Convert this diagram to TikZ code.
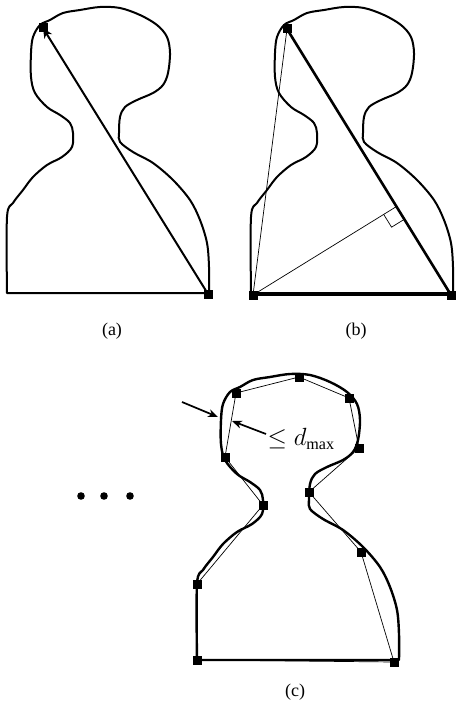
\documentclass[tikz,border=0pt]{standalone}
\usepackage{fontspec}
\setmainfont{Liberation Serif}
\usetikzlibrary{
    arrows.meta,
    positioning,
    calc
}

% outline of the shape, in pixel coordinates of panel (a)
\newcommand{\pawnoutline}{
    (7,293) -- plot[smooth, tension=0.55] coordinates {
    (7,293) (7,217) (13,203) (23,190) (33,177) (47,165) (62,157) (72,147)
    (73,133) (70,123) (60,115) (47,107) (35,93) (31,77) (31,53) (33,37)
    (40,25) (50,20) (63,13) (80,10) (100,7) (120,8) (140,15) (157,25)
    (167,37) (170,53) (168,73) (163,85) (153,93) (137,100) (125,107)
    (120,117) (119,133) (120,142) (133,152) (153,163) (173,180) (190,200)
    (200,220) (207,243) (209,267) (209,293)} -- cycle
}

\begin{document}
\begin{tikzpicture}[
    x=1pt, y=-1pt,
    >=Stealth,
    outline/.style={line width=2pt, line join=round},
    vertex/.style={rectangle, fill=black, minimum size=9pt, inner sep=0pt},
    chord/.style={line width=2.6pt},
    thinchord/.style={line width=0.7pt},
    pointer/.style={-{Stealth[length=10pt, width=8pt]}, line width=1.7pt},
    caption/.style={font=\fontsize{18}{21}\selectfont}
]
\useasboundingbox (0,0) rectangle (456,711);

% (a) first split
\draw[outline] \pawnoutline;
\node[vertex] (a1) at (43,28) {};
\node[vertex] (a2) at (208,294) {};
\draw[chord, line width=2pt, -{Stealth[length=10pt, width=9pt]}] (a2.center) -- (a1.center);
\node[caption] (capa) at (112,331) {(a)};

% (b) farthest point from the chord
\begin{scope}[shift={(244,0)}]
\draw[outline] \pawnoutline;
\node[vertex] (b1) at (43,29) {};
\node[vertex] (b2) at (207,295) {};
\node[vertex] (b3) at (9,295) {};
\end{scope}
\draw[chord] (b1.center) -- (b2.center);
\draw[chord, line width=2.2pt] (b3.center) -- (b2.center);
\draw[thinchord] (b3.center) -- (b1.center);
\coordinate (foot) at ($(b1.center)!(b3.center)!(b2.center)$);
\draw[thinchord] (b3.center) -- (foot);
\coordinate (rA) at ($(foot)!15pt!(b2.center)$);
\coordinate (rB) at ($(foot)!15pt!(b3.center)$);
\draw[thinchord] (rA) -- ($(rA)+(rB)-(foot)$) -- (rB);
\node[caption] (capb) at (356,331) {(b)};

% (c) final polygon
\begin{scope}[shift={(190,367)}]
\draw[outline, line width=2.4pt] \pawnoutline;
\end{scope}
\node[vertex] (c1) at (197,660) {};
\node[vertex] (c2) at (197,584) {};
\node[vertex] (c3) at (263,505) {};
\node[vertex] (c4) at (225,457) {};
\node[vertex] (c5) at (236,393) {};
\node[vertex] (c6) at (299,377) {};
\node[vertex] (c7) at (349,398) {};
\node[vertex] (c8) at (359,448) {};
\node[vertex] (c9) at (309,492) {};
\node[vertex] (c10) at (361,552) {};
\node[vertex] (c11) at (394,662) {};
\draw[thinchord] (c1.center) -- (c2.center) -- (c3.center) -- (c4.center)
    -- (c5.center) -- (c6.center) -- (c7.center) -- (c8.center)
    -- (c9.center) -- (c10.center) -- (c11.center) -- cycle;

% distance annotation
\coordinate (tail) at (182,402);
\coordinate (curvept) at (218,417);
\coordinate (chordpt) at (232,421);
\draw[pointer] (tail) -- (curvept);
\node[font=\fontsize{23}{27}\selectfont, anchor=west] (dmax) at (264,439) {$\leq d_{\max}$};
\draw[pointer] (dmax.west) ++(2,-5) coordinate (dtail) -- (chordpt);
\node[caption] (capc) at (295,692) {(c)};

% further steps
\foreach \dx [count=\i] in {81,104,130}
    \fill (\dx,496) circle (3.8pt);
\end{tikzpicture}
\end{document}
